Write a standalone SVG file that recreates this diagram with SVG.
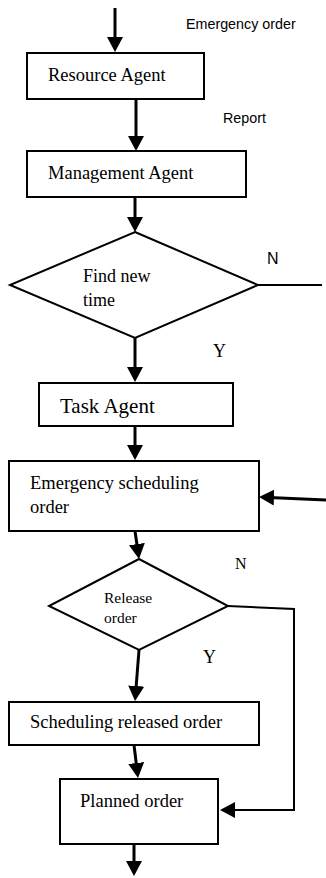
<svg xmlns="http://www.w3.org/2000/svg" width="326" height="878" viewBox="0 0 326 878">
<style>
.box{fill:#fff;stroke:#000;stroke-width:2}
.t{font-family:"Liberation Serif","Times New Roman",serif;fill:#000}
.s{font-family:"Liberation Sans",Arial,sans-serif;fill:#000}
.c{fill:none;stroke:#000;stroke-width:3}
.cl{fill:none;stroke:#000;stroke-width:2}
</style>
<defs>
<marker id="ah" markerUnits="userSpaceOnUse" markerWidth="15" markerHeight="16" viewBox="0 0 15 16" refX="5" refY="8" orient="auto">
<path d="M0,0 L15,8 L0,16 z" fill="#000"/>
</marker>
</defs>
<rect width="326" height="878" fill="#fff"/>
<g id="connectors">
<line class="c" x1="115" y1="8" x2="115" y2="42" marker-end="url(#ah)"/>
<line class="c" x1="136" y1="99" x2="136" y2="141" marker-end="url(#ah)"/>
<line class="c" x1="135" y1="197" x2="135" y2="222" marker-end="url(#ah)"/>
<line class="cl" x1="258" y1="285" x2="322" y2="285"/>
<line class="c" x1="135" y1="338" x2="135" y2="372" marker-end="url(#ah)"/>
<line class="c" x1="135" y1="426" x2="135" y2="450" marker-end="url(#ah)"/>
<line class="c" x1="326" y1="500" x2="269" y2="497.4" marker-end="url(#ah)"/>
<line class="c" x1="135" y1="531" x2="137.6" y2="549" marker-end="url(#ah)"/>
<polyline class="cl" points="228,606 294,609 294,810 230,810" marker-end="url(#ah)"/>
<line class="c" x1="139" y1="650" x2="135.8" y2="691" marker-end="url(#ah)"/>
<line class="c" x1="134" y1="745" x2="136.8" y2="768" marker-end="url(#ah)"/>
<line class="c" x1="134" y1="844" x2="134" y2="866" marker-end="url(#ah)"/>
<text class="s" x="186" y="29" font-size="14.3">Emergency order</text>
<text class="s" x="223" y="123" font-size="14.3">Report</text>
<text class="s" x="267" y="264" font-size="16">N</text>
<text class="t" x="213" y="357" font-size="18">Y</text>
<text class="t" x="235" y="569" font-size="16">N</text>
<text class="t" x="203" y="663" font-size="18">Y</text>
</g>
<g id="resource-agent">
<rect class="box" x="27" y="53" width="177" height="46"/>
<text class="t" x="48" y="81" font-size="18.5">Resource Agent</text>
</g>
<g id="management-agent">
<rect class="box" x="27" y="151" width="219" height="46"/>
<text class="t" x="48" y="179" font-size="18.5">Management Agent</text>
</g>
<g id="find-new-time">
<polygon class="box" points="135,232 258,285 135,338 10,285"/>
<text class="t" x="83" y="282" font-size="18">Find new</text>
<text class="t" x="83" y="306" font-size="18">time</text>
</g>
<g id="task-agent">
<rect class="box" x="39" y="383" width="194" height="43"/>
<text class="t" x="60" y="413" font-size="21">Task Agent</text>
</g>
<g id="emergency-scheduling-order">
<rect class="box" x="9" y="461" width="250" height="70"/>
<text class="t" x="30" y="489" font-size="18.5">Emergency scheduling</text>
<text class="t" x="30" y="513" font-size="18.5">order</text>
</g>
<g id="release-order">
<polygon class="box" points="139,559 228,606 139,650 49,606"/>
<text class="t" x="104" y="603" font-size="15.5">Release</text>
<text class="t" x="104" y="623" font-size="15.5">order</text>
</g>
<g id="scheduling-released-order">
<rect class="box" x="9" y="702" width="250" height="43"/>
<text class="t" x="30" y="728" font-size="18.5">Scheduling released order</text>
</g>
<g id="planned-order">
<rect class="box" x="60" y="779" width="158" height="65"/>
<text class="t" x="80" y="807" font-size="18.5">Planned order</text>
</g>
</svg>
